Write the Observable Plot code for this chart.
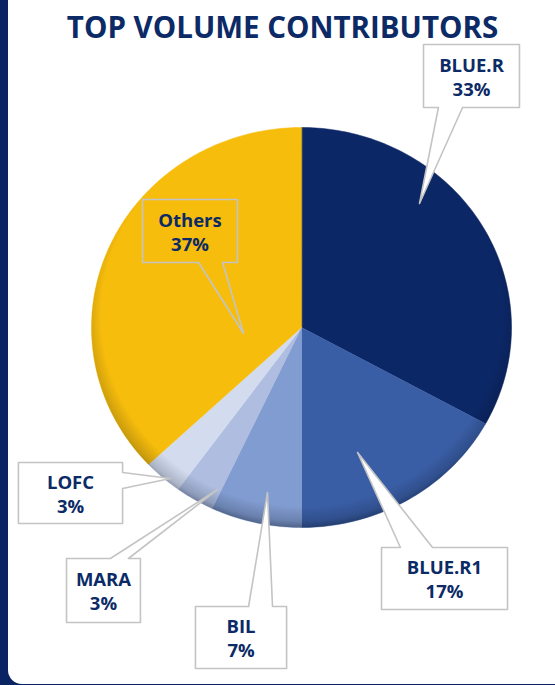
<!DOCTYPE html>
<html>
<head>
<meta charset="utf-8">
<script src="https://cdn.jsdelivr.net/npm/d3@7"></script>
<script src="https://cdn.jsdelivr.net/npm/@observablehq/plot@0.6"></script>
<style>
  html, body { margin: 0; padding: 0; }
  body { width: 555px; height: 685px; overflow: hidden; }
  #frame { position: relative; width: 555px; height: 685px; background: #0a2463; overflow: hidden; }
  #panel { position: absolute; left: 8px; top: -14px; width: 600px; height: 698px; background: #fff; border-radius: 14px; }
  #title { position: absolute; left: 0; top: 8px; width: 565px; text-align: center;
           font-family: "Open Sans", sans-serif; font-weight: 700; font-size: 29.5px; color: #0b2a66; line-height: 38px; letter-spacing: 0px; }
  #chart { position: absolute; left: 0; top: 45px; }
</style>
</head>
<body>
<div id="frame">
  <div id="panel"></div>
  <div id="title">TOP VOLUME CONTRIBUTORS</div>
  <div id="chart"></div>
</div>
<script>
// ---- data ----
const names  = ["BLUE.R", "BLUE.R1", "BIL", "MARA", "LOFC", "Others"];
const shares = [33, 17, 7, 3, 3, 37];
const colors = ["#0c2766", "#3a5ea6", "#819cd1", "#aebde0", "#d3dcef", "#f7bd0c"];

// ---- callout layout (in pie units: x/y in [-1,1] = pie radius) ----
const tipX   = [0.562, 0.267, -0.162, -0.40, -0.624, -0.276];
const tipY   = [0.62, -0.625, -0.825, -0.81, -0.755, -0.03];
const boxX1  = [0.581, 0.381, -0.505, -1.119, -1.348, -0.757];
const boxX2  = [1.038, 0.981, -0.071, -0.767, -0.852, -0.305];
const boxYT  = [1.415, -1.10, -1.395, -1.155, -0.675, 0.64];
const boxYB  = [1.10, -1.41, -1.705, -1.475, -0.98, 0.325];
const wedgeSide = ["bottom", "top", "top", "top", "right", "bottom"];
const wedgeA = [0.652, 0.471, -0.252, -0.91, -0.725, -0.49];
const wedgeB = [0.767, 0.624, -0.138, -0.824, -0.805, -0.376];

// ---- pie geometry from shares ----
const total = d3.sum(shares);
const slicePts = [];
let acc = 0;
names.forEach((n, i) => {
  const a0 = acc / total * 2 * Math.PI;
  acc += shares[i];
  const a1 = acc / total * 2 * Math.PI;
  slicePts.push({name: n, x: 0, y: 0});
  const steps = Math.max(2, Math.ceil((a1 - a0) / (Math.PI / 180)));
  for (let k = 0; k <= steps; k++) {
    const a = a0 + (a1 - a0) * k / steps;
    slicePts.push({name: n, x: Math.sin(a), y: Math.cos(a)});
  }
});

// full outline used for the bevel shading overlay
const rimPts = [];
for (let k = 0; k <= 360; k++) {
  const a = k * Math.PI / 180;
  rimPts.push({x: Math.sin(a), y: Math.cos(a)});
}

// ---- callout polygons ----
const calloutPts = [];
names.forEach((n, i) => {
  const x1 = boxX1[i], x2 = boxX2[i], yt = boxYT[i], yb = boxYB[i];
  const tip = {x: tipX[i], y: tipY[i]};
  let pts;
  if (wedgeSide[i] === "bottom") {
    pts = [[x1, yt], [x2, yt], [x2, yb], [wedgeB[i], yb], [tip.x, tip.y], [wedgeA[i], yb], [x1, yb]];
  } else if (wedgeSide[i] === "top") {
    pts = [[x1, yt], [wedgeA[i], yt], [tip.x, tip.y], [wedgeB[i], yt], [x2, yt], [x2, yb], [x1, yb]];
  } else {
    pts = [[x1, yt], [x2, yt], [x2, wedgeA[i]], [tip.x, tip.y], [x2, wedgeB[i]], [x2, yb], [x1, yb]];
  }
  pts.forEach(p => calloutPts.push({name: n, x: p[0], y: p[1], fill: n === "Others" ? "none" : "white"}));
});

const labels = names.map((n, i) => ({
  name: n,
  x: (boxX1[i] + boxX2[i]) / 2,
  y: (boxYT[i] + boxYB[i]) / 2,
  text: n + "\n" + shares[i] + "%"
}));

const W = 555, H = 640;
const chart = Plot.plot({
  width: W, height: H,
  marginLeft: 91, marginRight: 44, marginTop: 82, marginBottom: 158,
  x: {domain: [-1, 1], axis: null},
  y: {domain: [-1, 1], axis: null},
  color: {domain: names, range: colors},
  style: {background: "transparent", overflow: "visible"},
  marks: [
    Plot.line(slicePts, {x: "x", y: "y", z: "name", fill: "name", stroke: "name", strokeWidth: 0.5, curve: "linear-closed"}),
    Plot.line(rimPts, {x: "x", y: "y", stroke: "none", fill: "url(#bevel)", curve: "linear-closed"}),
    Plot.line(calloutPts, {x: "x", y: "y", z: "name", fill: d => d.fill, stroke: "#c4c4c4", strokeWidth: 1.6, curve: "linear-closed"}),
    Plot.text(labels, {x: "x", y: "y", text: "text", fill: "#0b2a66", fontWeight: 700, fontSize: 18.5, lineHeight: 1.3,
      fontFamily: "Open Sans, sans-serif"})
  ]
});
// radial shading for the pie rim (darker at the lower edge)
const ns = "http://www.w3.org/2000/svg";
const defs = document.createElementNS(ns, "defs");
const grad = document.createElementNS(ns, "radialGradient");
grad.setAttribute("id", "bevel");
grad.setAttribute("cx", "0.5"); grad.setAttribute("cy", "0.47");
grad.setAttribute("r", "0.53");
[["0", 0], ["0.9", 0], ["0.97", 0.18], ["1", 0.38]].forEach(([o, a]) => {
  const s = document.createElementNS(ns, "stop");
  s.setAttribute("offset", o);
  s.setAttribute("stop-color", "#000814");
  s.setAttribute("stop-opacity", a);
  grad.appendChild(s);
});
defs.appendChild(grad);
chart.insertBefore(defs, chart.firstChild);
document.getElementById("chart").appendChild(chart);
</script>
</body>
</html>
